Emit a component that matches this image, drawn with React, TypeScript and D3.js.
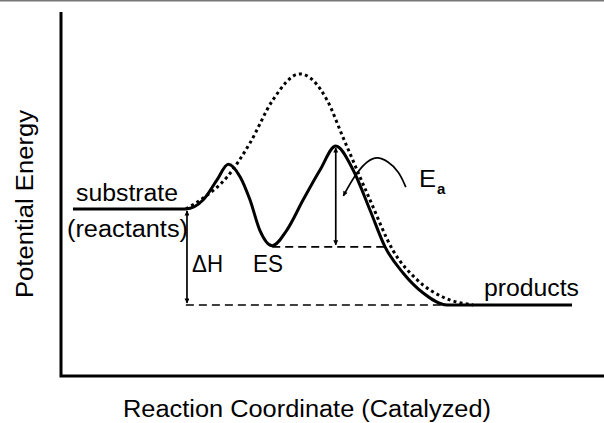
import { useEffect, useRef } from "react";
import * as d3 from "d3";

// Energy profile, reaction coordinate 0-100 vs potential energy 0-100
const catalyzed: [number, number][] = [
  [2.2, 45.9], [23.0, 45.9], [26.2, 48.4], [28.7, 53.8], [30.8, 58.2],
  [33.0, 54.7], [34.8, 48.4], [36.6, 40.1], [38.9, 35.8], [41.6, 40.1],
  [44.6, 48.4], [47.7, 56.6], [50.6, 63.2], [53.8, 56.6], [56.9, 45.6],
  [59.7, 35.4], [63.0, 28.3], [66.7, 22.8], [71.1, 19.5], [94.1, 19.5],
];

const uncatalyzed: [number, number][] = [
  [23.0, 45.9], [26.2, 48.9], [30.6, 54.7], [34.8, 64.0], [39.0, 75.8],
  [44.0, 83.0], [49.0, 75.8], [51.9, 65.7], [56.9, 48.4], [61.1, 34.6],
  [65.6, 26.4], [70.3, 21.7], [75.9, 19.5],
];

// curved pointer towards the Ea arrow
const pointer: [number, number][] = [
  [63.5, 51.9], [62.1, 56.0], [60.2, 58.8], [58.2, 59.9],
  [56.4, 58.8], [54.4, 55.5], [52.0, 49.5],
];

// energy levels: reactants, ES complex, products
const levels = [45.9, 35.5, 19.5];
const levelNames = ["substrate", "(reactants)", "ES", "products"];
const arrowNames = ["\u0394H", "E", "a"];
const axisTitles = ["Reaction Coordinate (Catalyzed)", "Potential Energy"];

const W = 604;
const H = 423;
const FONT = "'Liberation Sans', Arial, sans-serif";

const App = () => {
  const ref = useRef<SVGSVGElement>(null);

  useEffect(() => {
    const svg = d3.select(ref.current);
    svg.selectAll("*").remove();

    const x = d3.scaleLinear().domain([0, 100]).range([61, 604]);
    const y = d3.scaleLinear().domain([0, 100]).range([376, 12]);

    svg
      .append("defs")
      .append("marker")
      .attr("id", "head")
      .attr("viewBox", "0 0 10 10")
      .attr("refX", 9)
      .attr("refY", 5)
      .attr("markerWidth", 6)
      .attr("markerHeight", 5)
      .attr("markerUnits", "userSpaceOnUse")
      .attr("orient", "auto-start-reverse")
      .append("path")
      .attr("d", "M0,0 L10,5 L0,10 z")
      .attr("fill", "#000");

    // frame line along the top
    svg.append("rect").attr("x", 0).attr("y", 0).attr("width", W).attr("height", 1.5).attr("fill", "#777");

    // axes
    svg
      .append("path")
      .attr("d", `M${x(0)},${y(100)} V${y(0)} H${W}`)
      .attr("fill", "none")
      .attr("stroke", "#000")
      .attr("stroke-width", 3);

    const [sub, es, prod] = levels;

    // dashed reference lines (ES level, products level)
    const dashed = [
      [38.9, 59.7, es],
      [23.0, 71.1, prod],
    ];
    dashed.forEach(([a, b, lv]) => {
      svg
        .append("line")
        .attr("x1", x(a)).attr("x2", x(b))
        .attr("y1", y(lv)).attr("y2", y(lv))
        .attr("stroke", "#000").attr("stroke-width", 1.7)
        .attr("stroke-dasharray", "8 5");
    });

    const line = d3
      .line<[number, number]>()
      .x((d) => x(d[0]))
      .y((d) => y(d[1]))
      .curve(d3.curveMonotoneX);

    svg
      .append("path")
      .attr("d", line(uncatalyzed))
      .attr("fill", "none")
      .attr("stroke", "#000")
      .attr("stroke-width", 3)
      .attr("stroke-dasharray", "3 3.2");

    svg
      .append("path")
      .attr("d", line(catalyzed))
      .attr("fill", "none")
      .attr("stroke", "#000")
      .attr("stroke-width", 3)
      .attr("stroke-linejoin", "round");

    // double arrows: ΔH and Ea
    const arrows = [
      [23.2, sub, prod],
      [50.6, 63.2, es],
    ];
    arrows.forEach(([ax, y0, y1]) => {
      svg
        .append("line")
        .attr("x1", x(ax)).attr("x2", x(ax))
        .attr("y1", y(y0) + 2).attr("y2", y(y1) - 2)
        .attr("stroke", "#000").attr("stroke-width", 1.7)
        .attr("marker-start", "url(#head)")
        .attr("marker-end", "url(#head)");
    });

    svg
      .append("path")
      .attr(
        "d",
        d3.line<[number, number]>().x((d) => x(d[0])).y((d) => y(d[1])).curve(d3.curveCatmullRom)(pointer)
      )
      .attr("fill", "none")
      .attr("stroke", "#000")
      .attr("stroke-width", 1.7)
      .attr("marker-end", "url(#head)");

    const label = (t: string, px: number, py: number, len: number, size = 23) =>
      svg
        .append("text")
        .attr("x", px)
        .attr("y", py)
        .attr("font-family", FONT)
        .attr("font-size", size)
        .attr("textLength", len)
        .attr("lengthAdjust", "spacingAndGlyphs")
        .text(t);

    label(levelNames[0], 76, y(sub) - 8, 102);
    label(levelNames[1], 67, y(sub) + 28, 121);
    label(arrowNames[0], 192, 272, 31, 24);
    label(levelNames[2], 253, 272, 30, 24);
    label(levelNames[3], 484, y(prod) - 9, 95);
    label(arrowNames[1], 419, 187, 17);
    svg
      .append("text")
      .attr("x", 437)
      .attr("y", 194)
      .attr("font-family", FONT)
      .attr("font-size", 15)
      .attr("font-weight", "bold")
      .text(arrowNames[2]);

    label(axisTitles[0], 123, 417, 368);
    svg
      .append("text")
      .attr("transform", `translate(33,${204}) rotate(-90)`)
      .attr("text-anchor", "middle")
      .attr("font-family", FONT)
      .attr("font-size", 23)
      .attr("textLength", 188)
      .attr("lengthAdjust", "spacingAndGlyphs")
      .text(axisTitles[1]);
  }, []);

  return (
    <svg
      ref={ref}
      width={W}
      height={H}
      style={{ position: "absolute", left: 0, top: 0, background: "#fff" }}
    />
  );
};

export default App;
